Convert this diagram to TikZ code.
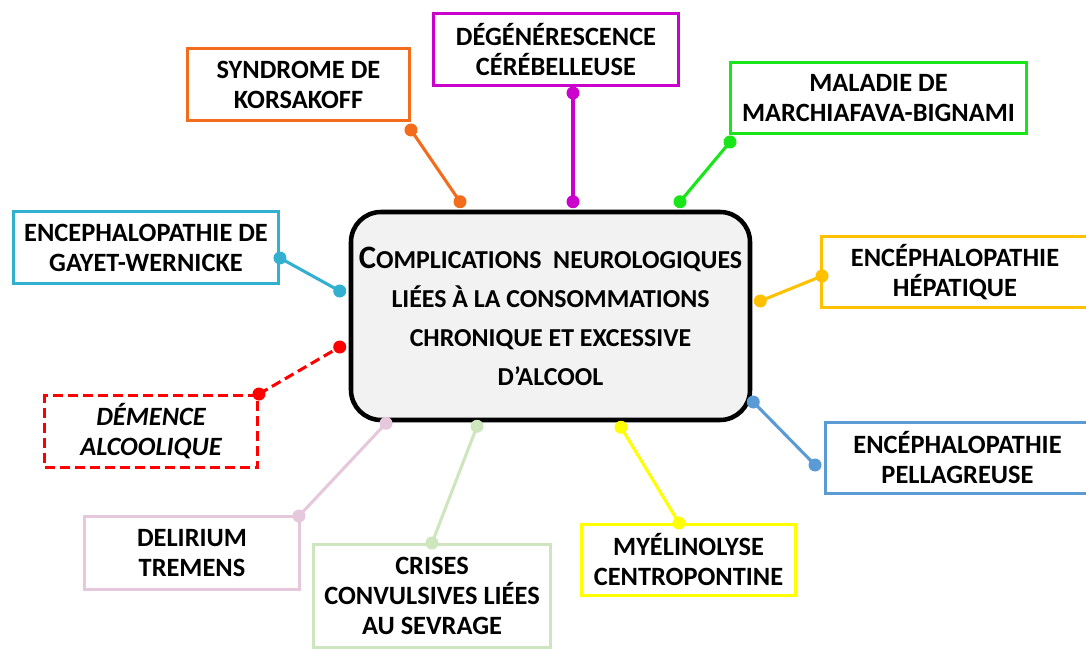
\documentclass[tikz,border=0pt]{standalone}
\usepackage{fontspec}
\setmainfont{Carlito}
\usetikzlibrary{calc}

\newcommand{\pxu}{0.75pt}

\definecolor{korsc}{RGB}{242,108,28}
\definecolor{degenc}{RGB}{204,0,204}
\definecolor{marchc}{RGB}{24,230,24}
\definecolor{wernc}{RGB}{49,176,208}
\definecolor{hepatc}{RGB}{255,192,0}
\definecolor{pellc}{RGB}{91,155,213}
\definecolor{myelc}{RGB}{255,255,0}
\definecolor{crisesc}{RGB}{205,230,190}
\definecolor{delirc}{RGB}{230,200,220}
\definecolor{demc}{RGB}{255,0,0}

\tikzset{
  box/.style={draw=#1, line width=2.2pt, align=center, inner sep=0pt,
    font=\bfseries\fontsize{19.8}{22.5}\selectfont},
  hub/.style={draw=black, fill=black!5, line width=3.4pt, rounded corners=22.5pt,
    align=center, minimum width=399*\pxu, minimum height=208*\pxu,
    font=\bfseries\fontsize{19.4}{29.25}\selectfont},
  link/.style={draw=#1, line width=2.3pt}
}

\begin{document}
\begin{tikzpicture}[x=0.75pt, y=-0.75pt]
\useasboundingbox (0,0) rectangle (1086,649);

% centre
\node [hub] (hub) at (550.5,316) {\spaceskip=0.45em
  {\fontsize{24.5}{24.5}\selectfont C}OMPLICATIONS NEUROLOGIQUES\\
  LIÉES À LA CONSOMMATIONS\\
  CHRONIQUE ET EXCESSIVE\\
  D’ALCOOL};

% boxes
\node [box=korsc, minimum width=222*\pxu, minimum height=72*\pxu] (kors) at (298.5,84.5) {SYNDROME DE\\KORSAKOFF};
\node [box=degenc, minimum width=245*\pxu, minimum height=72*\pxu] (degen) at (556,49.5) {DÉGÉNÉRESCENCE\\CÉRÉBELLEUSE};
\node [box=marchc, minimum width=296*\pxu, minimum height=71*\pxu] (march) at (878.5,98) {MALADIE DE\\MARCHIAFAVA-BIGNAMI};
\node [box=wernc, minimum width=265*\pxu, minimum height=72*\pxu] (wern) at (146,247.5) {ENCEPHALOPATHIE DE\\GAYET-WERNICKE};
\node [box=hepatc, minimum width=267*\pxu, minimum height=71*\pxu] (hepat) at (955,272) {ENCÉPHALOPATHIE\\HÉPATIQUE};
\node [box=pellc, minimum width=264*\pxu, minimum height=71*\pxu] (pell) at (957.5,458) {ENCÉPHALOPATHIE\\PELLAGREUSE};
\node [box=myelc, minimum width=214*\pxu, minimum height=71*\pxu] (myel) at (688.5,560) {MYÉLINOLYSE\\CENTROPONTINE};
\node [box=crisesc, minimum width=237*\pxu, minimum height=103*\pxu] (crises) at (432,596) {CRISES\\CONVULSIVES LIÉES\\AU SEVRAGE};
\node [box=delirc, minimum width=215*\pxu, minimum height=73*\pxu] (delir) at (192,553) {DELIRIUM\\TREMENS};
\node [box=demc, dashed, dash pattern=on 7.5pt off 3.75pt, minimum width=213*\pxu, minimum height=72*\pxu,
  font=\bfseries\itshape\fontsize{19.8}{22.5}\selectfont] (dem) at (151,431.5) {DÉMENCE\\ALCOOLIQUE};

% connectors
\draw [link=korsc] ($(kors.south east)+(0,8)$) -- ($(hub.north)+(-90.5,-8)$);
\fill [korsc] ($(kors.south east)+(0,8)$) circle (6.5) ($(hub.north)+(-90.5,-8)$) circle (6.5);
\draw [link=degenc] ($(degen.south)+(17,6)$) -- ($(hub.north)+(22.5,-8)$);
\fill [degenc] ($(degen.south)+(17,6)$) circle (6.5) ($(hub.north)+(22.5,-8)$) circle (6.5);
\draw [link=marchc] ($(march.south west)+(1,7)$) -- ($(hub.north)+(129.5,-8)$);
\fill [marchc] ($(march.south west)+(1,7)$) circle (6.5) ($(hub.north)+(129.5,-8)$) circle (6.5);
\draw [link=wernc] ($(wern.east)+(0,10.5)$) -- ($(hub.west)+(-9,-25)$);
\fill [wernc] ($(wern.east)+(0,10.5)$) circle (6.5) ($(hub.west)+(-9,-25)$) circle (6.5);
\draw [link=demc, dash pattern=on 7.5pt off 3.75pt] (dem.north east) -- ($(hub.west)+(-9,31)$);
\fill [demc] (dem.north east) circle (6.5) ($(hub.west)+(-9,31)$) circle (6.5);
\draw [link=delirc] ($(delir.north east)+(-2,1)$) -- ($(hub.south)+(-164.5,1)$);
\fill [delirc] ($(delir.north east)+(-2,1)$) circle (6.5) ($(hub.south)+(-164.5,1)$) circle (6.5);
\draw [link=crisesc] (crises.north) -- ($(hub.south)+(-73.5,4)$);
\fill [crisesc] (crises.north) circle (6.5) ($(hub.south)+(-73.5,4)$) circle (6.5);
\draw [link=myelc] ($(myel.north)+(-9.5,0)$) -- ($(hub.south)+(70.5,5)$);
\fill [myelc] ($(myel.north)+(-9.5,0)$) circle (6.5) ($(hub.south)+(70.5,5)$) circle (6.5);
\draw [link=pellc] ($(pell.west)+(-9,7)$) -- ($(hub.east)+(1,86)$);
\fill [pellc] ($(pell.west)+(-9,7)$) circle (6.5) ($(hub.east)+(1,86)$) circle (6.5);
\draw [link=hepatc] ($(hepat.west)+(2,4)$) -- ($(hub.east)+(8,-15)$);
\fill [hepatc] ($(hepat.west)+(2,4)$) circle (6.5) ($(hub.east)+(8,-15)$) circle (6.5);
\end{tikzpicture}
\end{document}
